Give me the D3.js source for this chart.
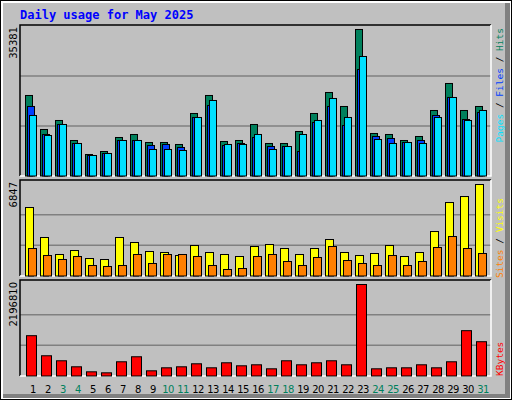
<!DOCTYPE html>
<html><head><meta charset="utf-8">
<script src="https://cdn.jsdelivr.net/npm/d3@7"></script>
<style>body{margin:0}svg{display:block}</style></head>
<body><svg id="c" width="512" height="400"></svg>
<script>
const days = d3.range(1, 32);
const weekend = [3,4,10,11,17,18,24,25,31];
const hits = [19108,11087,13210,8492,5190,5897,9200,9908,8021,8021,7549,14862,19108,8257,8492,12267,7785,7785,10616,14862,19816,16513,34677,10144,9908,8492,9436,15569,21939,15569,16513];
const files = [16513,9908,12267,7785,4954,5426,8492,8492,7313,7549,6841,13918,16749,7313,7785,9200,7077,7077,5897,12739,16513,12031,25241,9436,8964,8021,8492,14390,18636,13446,15098];
const pages = [14390,9672,12267,7785,4954,5426,8492,8492,6369,6369,6133,13918,17928,7549,7549,9908,6369,7077,9908,13210,18400,13918,28308,8728,7785,8021,7785,13918,18636,13210,15569];
const visits = [5134,2902,1637,1934,1339,1265,2902,2530,1860,1786,1562,2306,1786,1637,1488,2232,2381,2083,1637,2083,2753,1786,1562,1711,2306,1488,1786,3348,5506,5952,6847];
const sites = [2083,1562,1265,1488,818,744,818,1637,967,1637,1637,1488,818,521,595,1488,1637,1116,818,1414,2232,1190,967,818,1562,818,1116,2158,2976,2083,1711];
const kbytes = [974536,495256,375436,231652,111832,87868,351472,471292,135796,207688,231652,303544,207688,327508,255616,279580,183724,375436,279580,327508,375436,279580,2196810,183724,207688,207688,279580,207688,351472,1094356,830752];
const maxLabels = ["35381","6847","2196810"];

const svg = d3.select("#c");
svg.append("rect").attr("x",0).attr("y",0).attr("width",512).attr("height",400).attr("fill","#000");
svg.append("rect").attr("x",1).attr("y",1).attr("width",510).attr("height",398).attr("fill","#fff");
svg.append("rect").attr("x",3).attr("y",3).attr("width",507).attr("height",395).attr("fill","#808080");
svg.append("rect").attr("x",3).attr("y",3).attr("width",502).attr("height",391).attr("fill","#c0c0c0");

svg.append("text").attr("x",20).attr("y",19).text("Daily usage for May 2025")
  .attr("font-family","DejaVu Sans Mono").attr("font-weight","bold").attr("font-size",12).attr("fill","#0000ff");

const x = d3.scaleLinear().domain([1,31]).range([25,475]);
const px = 20, pw = 471;

function panel(y0, y1, top) {
  svg.append("rect").attr("x",px).attr("y",y0).attr("width",pw).attr("height",y1-y0).attr("fill","#c0c0c0");
  const h = y1 - top;
  [1,2].forEach(k=>svg.append("line").attr("x1",px).attr("x2",px+pw)
     .attr("y1",y1-h*k/3).attr("y2",y1-h*k/3).attr("stroke","#808080").attr("stroke-width",1.5));
  svg.append("path").attr("d",`M${px},${y1}V${y0}H${px+pw}`).attr("fill","none").attr("stroke","#000").attr("stroke-width",1.5);
  svg.append("path").attr("d",`M${px+pw},${y0}V${y1}H${px}`).attr("fill","none").attr("stroke","#fff").attr("stroke-width",1.5);
}
function bars(data, y, off, w, col, y1) {
  svg.append("g").selectAll("rect").data(data).join("rect")
    .attr("x",(d,i)=>x(days[i])+off+0.5).attr("y",d=>y(d)+0.5)
    .attr("width",w).attr("height",d=>y1-y(d)-0.5)
    .attr("fill",col).attr("stroke","#000").attr("stroke-width",1);
}
function vlabel(cx, cy, parts, anchor, fam, size) {
  const t = svg.append("text").attr("transform",`translate(${cx},${cy}) rotate(-90)`)
    .attr("font-family",fam).attr("font-size",size).attr("text-anchor",anchor);
  parts.forEach(p=>t.append("tspan").text(p[0]).attr("fill",p[1]));
}
const M = "DejaVu Sans Mono", S = "DejaVu Sans";

panel(25, 176, 26);
const yT = d3.scaleLinear().domain([0,35381]).range([176,26]);
bars(hits, yT, 0, 7, "#00805c", 176);
bars(files, yT, 2, 7, "#0040ff", 176);
bars(pages, yT, 4, 7, "#00e0ff", 176);
vlabel(17, 27, [[maxLabels[0],"#000"]], "end", S, 10);
vlabel(503, 28, [["Pages","#00e0ff"],[" / ","#000"],["Files","#0040ff"],[" / ","#000"],["Hits","#00805c"]], "end", M, 9.5);

panel(180, 276, 184);
const yM = d3.scaleLinear().domain([0,6847]).range([276,184]);
bars(visits, yM, 0, 8, "#ffff00", 276);
bars(sites, yM, 3, 8, "#ff8000", 276);
vlabel(17, 182, [[maxLabels[1],"#000"]], "end", S, 10);
vlabel(503, 198, [["Sites","#ff8000"],[" / ","#000"],["Visits","#ffff00"]], "end", M, 9.5);

panel(280, 376, 284);
const yB = d3.scaleLinear().domain([0,2196810]).range([376,284]);
bars(kbytes, yB, 1, 10, "#ff0000", 376);
vlabel(17, 282, [[maxLabels[2],"#000"]], "end", S, 10);
vlabel(503, 376, [["KBytes","#ff0000"]], "start", M, 9.5);

svg.append("g").selectAll("text").data(days).join("text")
  .attr("x",d=>x(d)+8).attr("y",393).attr("text-anchor","middle")
  .attr("font-family",S).attr("font-size",10).attr("letter-spacing",-0.6)
  .attr("fill",d=>weekend.includes(d)?"#00805c":"#000").text(d=>d);
</script></body></html>
